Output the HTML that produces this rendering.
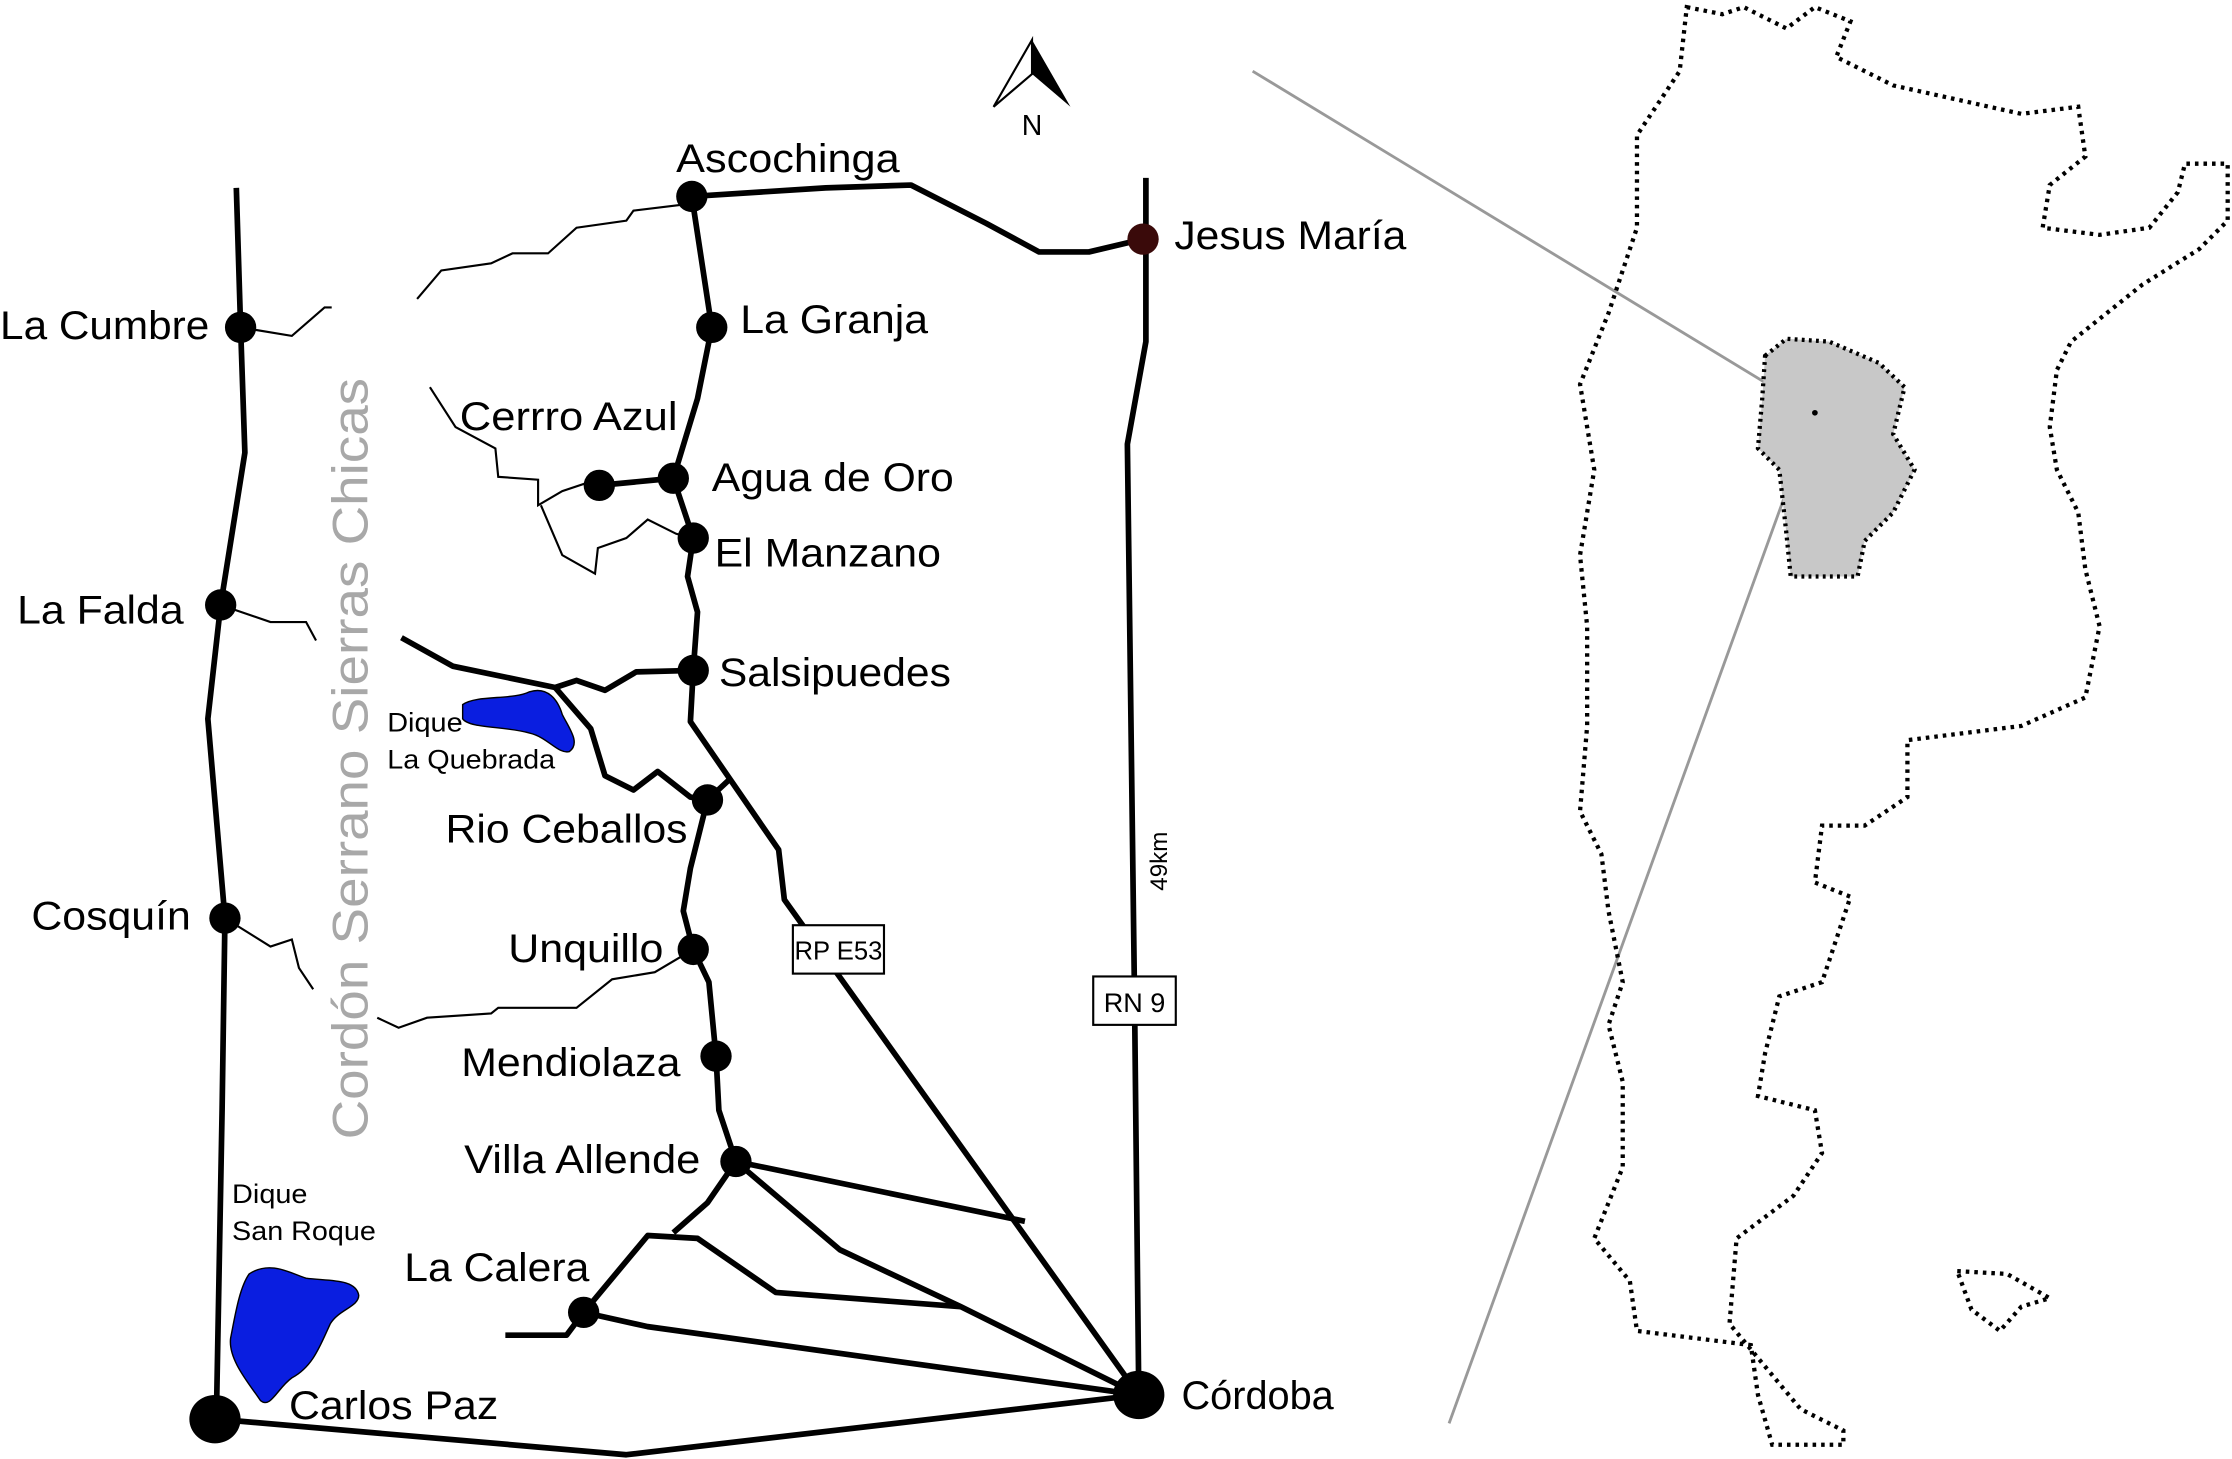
<!DOCTYPE html>
<html><head><meta charset="utf-8"><style>
html,body{margin:0;padding:0;background:#fff}
svg{display:block}
text{font-family:"Liberation Sans",sans-serif;fill:#000}
</style></head><body>
<svg width="2232" height="1459" viewBox="0 0 1568 1025" xmlns="http://www.w3.org/2000/svg">
<g fill="none" stroke="#000" stroke-width="4" stroke-linejoin="round">
<polyline points="166,132 169,230 172,318 155,425 146,505 158,645 156,780 152,995"/>
<polyline points="486,138 500,230 490,280 473,336 487,378 483,405 490,430 487,471 485,507 547,597 551,632 800,980"/>
<polyline points="497,562 485,610 480,640 487,667 498,690 503,742 505,780 517,816"/>
<polyline points="497,562 512,548"/>
<polyline points="486,138 580,132 640,130 693,157 730,177 765,177 803,168"/>
<polyline points="805,125 805,240 792,312 797,700 800,980"/>
<polyline points="282,448 318,468 390,483 405,478 425,485 447,472 487,471"/>
<polyline points="390,483 415,512 425,545 445,555 462,542 485,560 497,562"/>
<polyline points="517,816 720,858"/>
<polyline points="517,816 590,878 675,918 800,980"/>
<polyline points="517,816 497,845 473,866"/>
<polyline points="355,938 398,938 410,922 455,868 490,870 545,908 675,918"/>
<polyline points="410,922 455,932 800,980"/>
<polyline points="152,997 440,1022 800,980"/>
<polyline points="421,341 473,336"/>
</g>
<g fill="none" stroke="#000" stroke-width="1.5">
<polyline points="169,230 205,236 228,216 233,216"/>
<polyline points="155,425 190,437 215,437 222,450"/>
<polyline points="158,645 190,665 205,660 210,680 220,695"/>
<polyline points="293,210 310,190 345,185 360,178 385,178 405,160 440,155 445,148 486,143"/>
<polyline points="302,272 320,300 348,315 350,335 378,337 378,355 395,345 410,340 421,341"/>
<polyline points="380,355 395,390 418,403 420,385 440,378 455,365 475,375 487,378"/>
<polyline points="265,715 280,722 300,715 345,712 350,708 405,708 430,688 460,683 487,667"/>
</g>
<path d="M325,495 C335,488 360,492 372,486 C385,482 392,492 395,502 C400,512 408,522 400,528 C392,530 385,518 372,515 C355,510 330,512 325,505 Z" fill="#0a1ee0" stroke="#000" stroke-width="1"/>
<path d="M175,895 C190,885 205,895 215,898 C230,900 250,898 252,910 C252,918 238,920 232,930 C225,945 220,960 205,968 C195,975 190,990 183,984 C175,972 160,955 162,940 C165,925 168,905 175,895 Z" fill="#0a1ee0" stroke="#000" stroke-width="1"/>
<g fill="#000">
<circle cx="169" cy="230" r="11"/><circle cx="155" cy="425" r="11"/><circle cx="158" cy="645" r="11"/>
<ellipse cx="151" cy="997" rx="18" ry="17"/><ellipse cx="800" cy="980" rx="18" ry="17"/>
<circle cx="486" cy="138" r="11"/><circle cx="500" cy="230" r="11"/><circle cx="473" cy="336" r="11"/>
<circle cx="421" cy="341" r="11"/><circle cx="487" cy="378" r="11"/><circle cx="487" cy="471" r="11"/>
<circle cx="497" cy="562" r="11"/><circle cx="487" cy="667" r="11"/><circle cx="503" cy="742" r="11"/>
<circle cx="517" cy="816" r="11"/><circle cx="410" cy="922" r="11"/>
</g>
<circle cx="803" cy="168" r="11" fill="#3a0a0a"/>
<g font-size="28" lengthAdjust="spacingAndGlyphs">
<text x="0" y="238" textLength="147" lengthAdjust="spacingAndGlyphs">La Cumbre</text>
<text x="12" y="438" textLength="117" lengthAdjust="spacingAndGlyphs">La Falda</text>
<text x="22" y="653" textLength="112" lengthAdjust="spacingAndGlyphs">Cosquín</text>
<text x="203" y="997" textLength="147" lengthAdjust="spacingAndGlyphs">Carlos Paz</text>
<text x="830" y="990" textLength="107" lengthAdjust="spacingAndGlyphs">Córdoba</text>
<text x="475" y="121" textLength="157" lengthAdjust="spacingAndGlyphs">Ascochinga</text>
<text x="825" y="175" textLength="163" lengthAdjust="spacingAndGlyphs">Jesus María</text>
<text x="520" y="234" textLength="132" lengthAdjust="spacingAndGlyphs">La Granja</text>
<text x="323" y="302" textLength="153" lengthAdjust="spacingAndGlyphs">Cerrro Azul</text>
<text x="500" y="345" textLength="170" lengthAdjust="spacingAndGlyphs">Agua de Oro</text>
<text x="502" y="398" textLength="159" lengthAdjust="spacingAndGlyphs">El Manzano</text>
<text x="505" y="482" textLength="163" lengthAdjust="spacingAndGlyphs">Salsipuedes</text>
<text x="313" y="592" textLength="170" lengthAdjust="spacingAndGlyphs">Rio Ceballos</text>
<text x="357" y="676" textLength="109" lengthAdjust="spacingAndGlyphs">Unquillo</text>
<text x="324" y="756" textLength="154" lengthAdjust="spacingAndGlyphs">Mendiolaza</text>
<text x="326" y="824" textLength="166" lengthAdjust="spacingAndGlyphs">Villa Allende</text>
<text x="284" y="900" textLength="130" lengthAdjust="spacingAndGlyphs">La Calera</text>
</g>
<g font-size="19">
<text x="272" y="514" textLength="53" lengthAdjust="spacingAndGlyphs">Dique</text>
<text x="272" y="540" textLength="118" lengthAdjust="spacingAndGlyphs">La Quebrada</text>
<text x="163" y="845" textLength="53" lengthAdjust="spacingAndGlyphs">Dique</text>
<text x="163" y="871" textLength="101" lengthAdjust="spacingAndGlyphs">San Roque</text></g>
<text transform="translate(258,533) rotate(-90)" text-anchor="middle" font-size="35" textLength="535" lengthAdjust="spacingAndGlyphs" style="fill:#a8a8a8">Cordón Serrano Sierras Chicas</text>
<text transform="translate(820,605) rotate(-90)" text-anchor="middle" font-size="17">49km</text>
<rect x="557" y="650" width="64" height="34" fill="#fff" stroke="#000" stroke-width="1.5"/>
<text x="589" y="674" text-anchor="middle" font-size="18">RP E53</text>
<rect x="768" y="686" width="58" height="34" fill="#fff" stroke="#000" stroke-width="1.5"/>
<text x="797" y="711" text-anchor="middle" font-size="19">RN 9</text>
<polygon points="725,28 698,75 725,52" fill="#fff" stroke="#000" stroke-width="1.5"/>
<polygon points="725,28 752,75 725,52" fill="#000"/>
<text x="725" y="95" text-anchor="middle" font-size="20">N</text>
<line x1="880" y1="50" x2="1275" y2="290" stroke="#999" stroke-width="2"/>
<line x1="1275" y1="290" x2="1018" y2="1000" stroke="#999" stroke-width="2"/>
<polygon points="1240,250 1255,238 1285,240 1320,255 1338,272 1330,305 1345,330 1330,360 1310,380 1305,405 1258,405 1255,375 1250,330 1235,315 1238,280" fill="#c8c8c8" stroke="#000" stroke-width="3" stroke-dasharray="2,3"/>
<circle cx="1275" cy="290" r="2" fill="#000"/>
<g fill="none" stroke="#000" stroke-width="3" stroke-dasharray="2.5,3.5">
<polygon points="1185,5 1210,10 1225,5 1255,20 1275,5 1300,15 1290,40 1330,60 1375,70 1420,80 1460,75 1465,110 1440,130 1435,160 1475,165 1510,160 1530,135 1535,115 1565,115 1565,155 1545,175 1505,200 1480,220 1455,240 1445,260 1440,300 1445,330 1460,360 1465,400 1475,440 1465,490 1420,510 1340,520 1340,560 1310,580 1280,580 1275,620 1300,630 1290,660 1280,690 1250,700 1240,740 1235,770 1275,780 1280,810 1260,840 1220,870 1215,930 1240,960 1265,990 1295,1005 1295,1015 1245,1015 1235,980 1230,945 1150,935 1145,900 1120,870 1140,820 1140,760 1130,720 1140,690 1130,640 1125,600 1110,570 1115,510 1115,440 1110,390 1120,330 1110,270 1130,220 1150,160 1150,95 1180,50"/>
<polygon points="1375,893 1410,895 1440,912 1420,918 1405,935 1385,920"/>
</g>
</svg>
</body></html>
